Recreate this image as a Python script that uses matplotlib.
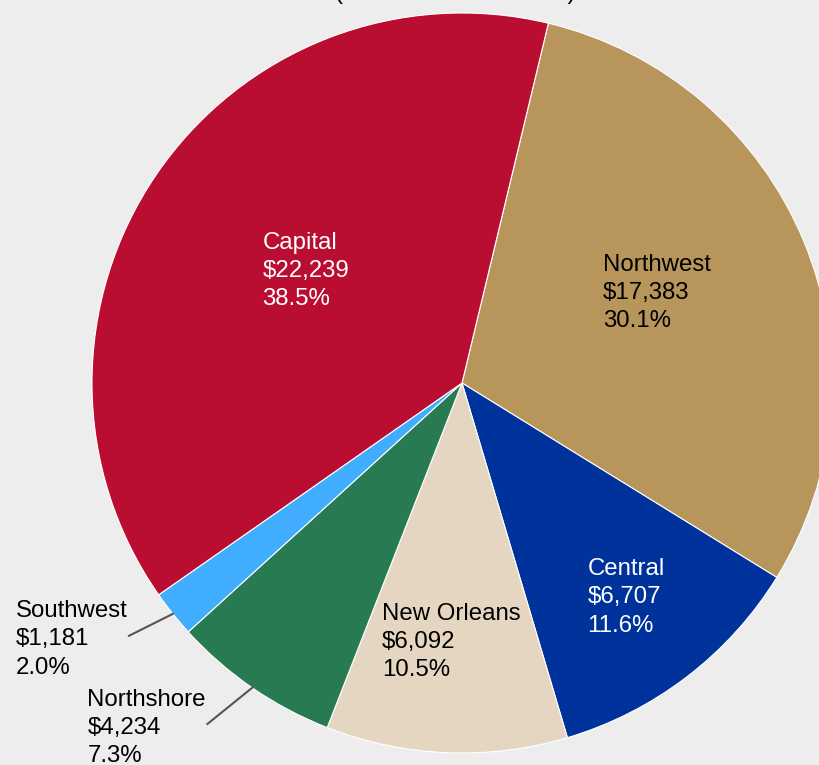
import matplotlib.pyplot as plt
import numpy as np

plt.rcParams['font.family'] = ['Liberation Sans', 'DejaVu Sans']

regions = ["Northwest", "Central", "New Orleans", "Northshore", "Southwest", "Capital"]
amounts = [17383, 6707, 6092, 4234, 1181, 22239]
colors = ["#B8955A", "#00329B", "#E5D6C1", "#277A51", "#41ADFF", "#B90E31"]
text_colors = ["black", "white", "black", "black", "black", "white"]
inside = [True, True, True, False, False, True]
# label placement: distance from centre and small angular nudge (degrees)
label_r = [0.58, 0.73, 0.70, 1.15, 1.13, 0.52]
label_nudge = [2.5, 0.0, 0.0, -2.2, -1.4, -1.4]

bg = "#EDEDED"
W, H = 819, 765
cx, cy, R = 462, 383, 370  # pie centre and radius in pixels

fig = plt.figure(figsize=(W / 100, H / 100), dpi=100, facecolor=bg)
ax = fig.add_axes([0, 0, 1, 1])
ax.set_facecolor(bg)

wedges, _ = ax.pie(amounts, colors=colors, startangle=76.5, counterclock=False,
                   radius=1, wedgeprops=dict(edgecolor="white", linewidth=0.8))
ax.set_xlim(-cx / R, (W - cx) / R)
ax.set_ylim(-(H - cy) / R, cy / R)
ax.set_aspect("auto")
ax.axis("off")

total = sum(amounts)
for w, name, val, tc, ins, r, nd in zip(wedges, regions, amounts, text_colors,
                                        inside, label_r, label_nudge):
    mid = (w.theta1 + w.theta2) / 2
    ang = np.deg2rad(mid + nd)
    label = f"{name}\n${val:,}\n{val / total * 100:.1f}%"
    x, y = r * np.cos(ang), r * np.sin(ang)
    if ins:
        ax.text(x, y, label, ha="center", va="center", multialignment="left",
                color=tc, fontsize=17.3, linespacing=1.36)
    else:
        x0, y0 = np.cos(np.deg2rad(mid)), np.sin(np.deg2rad(mid))
        ax.plot([x0, x], [y0, y], color="#555555", lw=1.5)
        ax.text(x - 0.004, y - 0.01, label, ha="right", va="center",
                multialignment="left", color=tc, fontsize=17.3, linespacing=1.36)

fig.text(455.5 / W, 1 + 1.5 / H, "(Dollars in Thousands)", ha="center", va="baseline",
         fontsize=17.3, color="black")

fig.savefig("out.png", dpi=100, facecolor=bg)
